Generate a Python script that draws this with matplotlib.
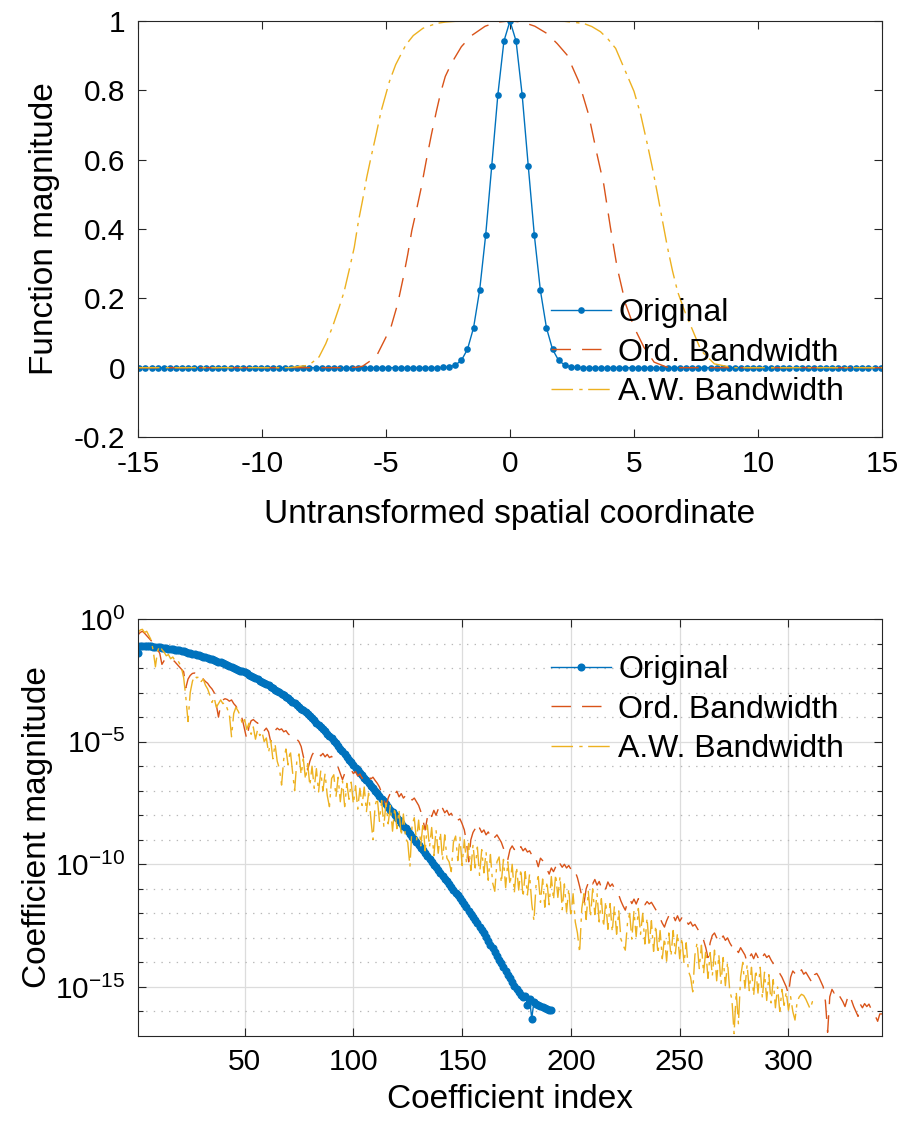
import numpy as np
import matplotlib
matplotlib.use("Agg")
import matplotlib.pyplot as plt
from matplotlib.ticker import FixedLocator, FixedFormatter, NullFormatter

# --- Style (MATLAB-like defaults) ---
plt.rcParams['font.family'] = ['Liberation Sans', 'DejaVu Sans']
plt.rcParams['mathtext.fontset'] = 'custom'
plt.rcParams['mathtext.rm'] = 'Liberation Sans'
plt.rcParams['mathtext.it'] = 'Liberation Sans'
plt.rcParams['axes.unicode_minus'] = False
plt.rcParams['lines.scale_dashes'] = False

C_BLUE = '#0072BD'
C_ORANGE = '#D95319'
C_YELLOW = '#EDB120'
C_AXIS = '#262626'

# --- Top panel data: functions on the untransformed grid ---
orig_step = 0.245
orig_x = np.arange(-61, 62) * orig_step
# right half of the original (i = 0 .. 61), mirrored for the left half
orig_right = [1.0, 0.942, 0.787, 0.583, 0.383, 0.223, 0.115, 0.053, 0.021,
              0.0075, 0.0024, 0.0007, 0.0002] + [0.0] * 49
orig_y = orig_right[:0:-1] + orig_right

ord_x = [-15, -6.6, -6.2, -5.95, -5.40, -5.07, -4.80, -4.53, -4.30, -4.12,
         -3.96, -3.78, -3.58, -3.38, -3.17, -2.97, -2.80, -2.61, -2.36, -1.96,
         -1.55, -1.0, -0.5, 0, 0.5, 1.0, 1.49, 1.9, 2.30, 2.77,
         3.17, 3.51, 3.78, 4.05, 4.32, 4.66, 5.0, 5.4, 5.81, 6.3,
         6.9, 15]
ord_y = [0, 0, 0.001, 0.004, 0.031, 0.078, 0.117, 0.184, 0.261, 0.328,
         0.395, 0.452, 0.519, 0.596, 0.672, 0.739, 0.792, 0.840, 0.878, 0.926,
         0.958, 0.985, 0.997, 1.0, 0.997, 0.985, 0.964, 0.935, 0.902, 0.826,
         0.730, 0.615, 0.529, 0.404, 0.289, 0.184, 0.117, 0.059, 0.016, 0.002,
         0, 0]

aw_x = [-15, -8.9, -8.11, -7.70, -7.43, -7.16, -6.89, -6.69, -6.49, -6.28,
        -6.11, -5.95, -5.78, -5.61, -5.40, -5.20, -4.86, -4.61, -4.20, -3.9,
        -3.51, -2.97, -2.6, -2.2, -1.0, 0, 1.0, 2.2, 2.97, 3.3,
        3.65, 3.95, 4.26, 4.66, 5.0, 5.27, 5.54, 5.74, 5.95, 6.15,
        6.35, 6.55, 6.76, 7.03, 7.37, 7.70, 8.24, 9.0, 15]
aw_y = [0, 0, 0.007, 0.031, 0.069, 0.117, 0.174, 0.219, 0.280, 0.347,
        0.423, 0.481, 0.548, 0.605, 0.672, 0.739, 0.826, 0.874, 0.931, 0.958,
        0.979, 0.993, 0.997, 0.999, 1.0, 1.0, 1.0, 0.999, 0.993, 0.984,
        0.969, 0.948, 0.921, 0.854, 0.797, 0.730, 0.644, 0.577, 0.500, 0.423,
        0.347, 0.280, 0.219, 0.165, 0.107, 0.050, 0.011, 0, 0]

top_xticks = [-15, -10, -5, 0, 5, 10, 15]
top_yticks = [-0.2, 0, 0.2, 0.4, 0.6, 0.8, 1]

# --- Bottom panel data: log10 of coefficient magnitudes, index 1..N ---
orig_coef_log = [
    -1.39, -1.10, -1.10, -1.10, -1.11, -1.11, -1.12, -1.13, -1.14, -1.15,
    -1.16, -1.17, -1.19, -1.20, -1.21, -1.23, -1.24, -1.25, -1.27, -1.28,
    -1.30, -1.32, -1.35, -1.37, -1.39, -1.41, -1.43, -1.46, -1.48, -1.50,
    -1.53, -1.56, -1.59, -1.62, -1.65, -1.68, -1.71, -1.74, -1.77, -1.80,
    -1.84, -1.87, -1.91, -1.95, -1.98, -2.02, -2.06, -2.10, -2.13, -2.17,
    -2.22, -2.27, -2.31, -2.36, -2.41, -2.46, -2.51, -2.55, -2.60, -2.65,
    -2.71, -2.76, -2.82, -2.88, -2.94, -2.99, -3.05, -3.11, -3.16, -3.22,
    -3.29, -3.37, -3.44, -3.51, -3.59, -3.66, -3.73, -3.80, -3.88, -3.95,
    -4.04, -4.13, -4.22, -4.31, -4.40, -4.49, -4.58, -4.67, -4.76, -4.85,
    -4.96, -5.07, -5.18, -5.29, -5.40, -5.51, -5.62, -5.73, -5.84, -5.95,
    -6.06, -6.16, -6.27, -6.37, -6.48, -6.58, -6.69, -6.79, -6.90, -7.00,
    -7.11, -7.22, -7.33, -7.44, -7.55, -7.66, -7.77, -7.88, -7.99, -8.10,
    -8.21, -8.32, -8.43, -8.54, -8.65, -8.76, -8.87, -8.98, -9.09, -9.20,
    -9.32, -9.43, -9.55, -9.66, -9.78, -9.89, -10.01, -10.12, -10.24, -10.35,
    -10.47, -10.58, -10.70, -10.81, -10.93, -11.04, -11.16, -11.27, -11.39, -11.50,
    -11.63, -11.76, -11.89, -12.02, -12.15, -12.28, -12.41, -12.54, -12.67, -12.80,
    -12.96, -13.11, -13.27, -13.42, -13.58, -13.73, -13.89, -14.04, -14.20, -14.35,
    -14.50, -14.65, -14.80, -14.95, -15.08, -15.20, -15.32, -15.42, -15.38, -15.72,
    -15.50, -16.29, -15.60, -15.68, -15.72, -15.78, -15.82, -15.85, -15.88, -15.92,
    -15.95,
]

ord_coef_log = [
    -0.65, -0.55, -0.50, -0.58, -0.68, -0.78, -0.88, -0.95, -1.10, -1.25,
    -1.40, -1.85, -1.70, -1.62, -1.58, -1.60, -1.66, -1.75, -1.85, -1.95,
    -2.05, -2.15, -2.80, -2.45, -2.30, -2.22, -2.20, -2.25, -2.35, -2.30,
    -2.45, -2.55, -2.62, -2.75, -2.85, -3.00, -3.50, -4.00, -3.50, -3.30,
    -3.25, -3.28, -3.35, -3.30, -3.45, -3.55, -3.70, -3.85, -4.10, -4.50,
    -4.90, -4.40, -4.15, -4.10, -4.18, -4.25, -4.20, -4.35, -4.55, -4.45,
    -4.60, -5.00, -4.70, -4.55, -4.45, -4.52, -4.48, -4.60, -4.55, -4.68,
    -4.75, -4.70, -4.85, -4.90, -5.00, -5.20, -5.60, -5.90, -6.15, -5.80,
    -5.55, -5.40, -5.50, -5.42, -5.58, -5.48, -5.62, -5.52, -5.65, -5.60,
    -5.75, -5.90, -6.05, -6.30, -6.55, -6.30, -6.20, -6.25, -6.15, -6.30,
    -6.22, -6.40, -6.32, -6.50, -6.40, -6.48, -6.38, -6.52, -6.45, -6.58,
    -6.70, -6.85, -7.10, -7.35, -7.65, -7.30, -7.10, -6.98, -7.15, -7.02,
    -7.25, -7.12, -7.30, -7.20, -7.35, -7.25, -7.38, -7.30, -7.45, -7.60,
    -7.85, -8.20, -8.60, -8.10, -7.85, -8.05, -7.80, -8.00, -7.75, -7.95,
    -7.72, -7.90, -7.80, -8.00, -7.92, -8.10, -8.00, -8.20, -8.15, -8.35,
    -8.60, -9.10, -9.90, -9.00, -8.70, -8.55, -8.75, -8.52, -8.70, -8.60,
    -8.80, -8.68, -8.85, -8.72, -8.90, -8.80, -8.95, -9.10, -9.35, -9.60,
    -9.80, -9.40, -9.25, -9.40, -9.22, -9.38, -9.28, -9.45, -9.35, -9.50,
    -9.45, -9.62, -9.55, -9.80, -10.10, -9.75, -9.85, -10.05, -10.20, -10.40,
    -10.15, -10.30, -10.10, -10.25, -9.98, -10.12, -10.00, -10.15, -10.05, -10.20,
    -10.12, -10.30, -10.55, -10.90, -11.30, -11.60, -11.00, -10.75, -10.60, -10.80,
    -10.62, -10.85, -10.70, -10.95, -10.80, -11.00, -10.72, -10.90, -10.80, -10.98,
    -11.05, -11.25, -11.50, -11.70, -11.87, -11.55, -11.40, -11.60, -11.42, -11.62,
    -11.40, -11.58, -11.50, -11.65, -11.52, -11.62, -11.55, -11.70, -11.85, -12.00,
    -12.20, -12.40, -12.56, -12.30, -12.10, -12.25, -12.08, -12.30, -12.10, -12.32,
    -12.18, -12.38, -12.28, -12.45, -12.35, -12.52, -12.45, -12.60, -12.75, -12.90,
    -13.10, -13.40, -13.80, -13.20, -12.90, -12.80, -13.00, -12.85, -13.05, -12.92,
    -13.10, -13.00, -13.20, -13.35, -13.25, -13.45, -13.60, -13.40, -13.55, -13.70,
    -14.00, -13.80, -13.65, -13.85, -13.62, -13.80, -13.60, -13.78, -13.65, -13.80,
    -13.72, -13.90, -14.05, -14.20, -14.35, -14.45, -14.60, -14.80, -15.00, -15.30,
    -14.60, -14.35, -14.45, -14.28, -14.42, -14.30, -14.48, -14.40, -14.55, -14.70,
    -14.85, -14.50, -14.45, -14.60, -14.80, -15.00, -15.60, -16.85, -15.40, -15.10,
    -15.25, -15.12, -15.30, -15.45, -15.60, -15.80, -15.50, -15.30, -15.55, -15.80,
    -16.00, -16.20, -15.70, -15.85, -15.68, -15.80, -15.70, -15.90, -16.05, -16.20,
    -16.40, -16.10, -16.10,
]

aw_coef_log = [
    -0.55, -0.45, -0.42, -0.55, -0.50, -0.68, -0.85, -1.30, -1.95, -1.30,
    -1.10, -1.25, -1.35, -1.50, -1.45, -1.62, -1.55, -1.70, -1.65, -1.80,
    -2.00, -2.40, -3.20, -4.18, -3.00, -2.55, -2.30, -2.40, -2.35, -2.55,
    -2.45, -2.70, -2.85, -3.10, -3.40, -3.20, -3.60, -3.45, -3.30, -3.45,
    -3.40, -3.65, -3.90, -4.80, -3.85, -3.60, -3.75, -3.95, -4.30, -4.10,
    -4.50, -4.25, -4.70, -4.40, -4.90, -4.50, -4.75, -4.60, -5.00, -4.85,
    -5.45, -4.95, -5.70, -5.10, -5.80, -6.10, -6.77, -5.70, -5.30, -5.95,
    -5.35, -6.20, -7.00, -5.80, -5.50, -6.35, -5.70, -6.55, -5.90, -6.80,
    -6.00, -6.90, -6.10, -7.05, -6.20, -7.00, -6.30, -7.20, -7.65, -6.50,
    -6.35, -7.25, -6.45, -7.45, -6.60, -7.65, -6.70, -7.35, -6.65, -7.55,
    -6.80, -7.75, -6.90, -7.60, -6.85, -7.85, -7.10, -8.10, -9.00, -7.60,
    -7.30, -8.25, -7.40, -8.45, -7.50, -8.35, -7.60, -8.65, -7.70, -8.55,
    -7.80, -8.85, -7.95, -8.95, -9.10, -10.10, -8.40, -8.10, -9.05, -8.20,
    -9.25, -8.30, -9.45, -8.40, -9.30, -8.50, -9.65, -8.60, -9.55, -8.70,
    -9.85, -8.80, -9.75, -9.90, -10.30, -9.10, -8.85, -9.85, -8.90, -10.05,
    -9.00, -9.95, -9.15, -10.25, -9.20, -10.15, -9.30, -10.45, -9.40, -10.35,
    -9.50, -10.65, -9.60, -10.75, -11.10, -9.90, -9.70, -10.75, -9.80, -10.95,
    -9.90, -10.85, -10.00, -11.15, -10.10, -11.05, -10.20, -11.35, -10.30, -11.25,
    -10.40, -11.60, -12.30, -10.80, -10.50, -11.55, -10.60, -11.75, -10.70, -11.65,
    -10.50, -11.45, -10.40, -11.35, -10.50, -11.85, -10.80, -11.95, -11.00, -12.15,
    -11.20, -12.35, -12.80, -13.60, -11.80, -11.20, -12.25, -11.10, -12.15, -11.00,
    -12.05, -11.20, -12.35, -11.40, -12.55, -11.50, -12.65, -11.60, -12.75, -11.70,
    -12.85, -11.90, -13.05, -13.30, -13.50, -12.40, -12.00, -13.05, -11.90, -12.95,
    -11.80, -12.85, -12.00, -13.25, -12.20, -13.35, -12.30, -13.55, -12.50, -13.65,
    -12.70, -13.85, -13.00, -13.95, -12.80, -13.75, -12.70, -13.65, -12.80, -13.85,
    -13.00, -14.05, -13.20, -14.35, -14.60, -15.20, -13.70, -13.20, -14.25, -13.30,
    -14.45, -13.50, -14.65, -13.60, -14.55, -13.50, -14.75, -13.70, -14.85, -13.80,
    -14.95, -14.00, -15.15, -15.50, -16.90, -15.20, -16.50, -14.60, -14.00, -15.05,
    -14.10, -15.15, -14.20, -15.35, -14.30, -15.25, -14.20, -15.45, -14.40, -15.55,
    -14.50, -15.65, -14.70, -15.85, -15.00, -16.00, -15.10, -15.75, -15.20, -15.95,
    -15.40, -16.00, -16.35, -15.60, -15.40, -15.30, -15.35, -15.50, -15.70, -15.90,
    -15.60, -15.80,
]

bot_xticks = [50, 100, 150, 200, 250, 300]
bot_major_decades = [0, -5, -10, -15]

LABELS = ['Original', 'Ord. Bandwidth', 'A.W. Bandwidth']

# --- Figure ---
W, H = 901, 1126
fig = plt.figure(figsize=(W / 100, H / 100), dpi=100)


def px_axes(left, top, right, bottom):
    """Axes rectangle given in pixel coordinates of the output image."""
    return fig.add_axes([left / W, 1 - bottom / H, (right - left) / W, (bottom - top) / H])


def style_axes(ax):
    for sp in ax.spines.values():
        sp.set_color(C_AXIS)
        sp.set_linewidth(0.8)
    ax.tick_params(which='both', direction='in', top=True, right=True,
                   color=C_AXIS, labelsize=21.5, labelcolor='black', width=0.8,
                   pad=9)
    ax.tick_params(which='major', length=6)
    ax.tick_params(which='minor', length=3.5)


def add_legend(ax, top_px):
    ax.legend(loc='upper left', bbox_to_anchor=(551 / W, 1 - top_px / H),
              bbox_transform=fig.transFigure, frameon=False, fontsize=23,
              handlelength=1.88, handletextpad=0.22, labelspacing=0.3,
              borderpad=0, borderaxespad=0, numpoints=1)


ORD_DASH = (14, 8)
AW_DASH = (15.5, 4.5, 2.4, 4.0)
LINE_W = 1.0

# Top panel
ax1 = px_axes(138, 21, 882, 437)
ax1.plot(orig_x, orig_y, color=C_BLUE, lw=LINE_W, marker='o', ms=4.8, mew=0,
         label=LABELS[0])
ax1.plot(ord_x, ord_y, color=C_ORANGE, lw=LINE_W, dashes=ORD_DASH, label=LABELS[1])
ax1.plot(aw_x, aw_y, color=C_YELLOW, lw=LINE_W, dashes=AW_DASH, label=LABELS[2])
ax1.set_xlim(-15, 15)
ax1.set_ylim(-0.2, 1)
ax1.xaxis.set_major_locator(FixedLocator(top_xticks))
ax1.xaxis.set_major_formatter(FixedFormatter([f'{t:g}' for t in top_xticks]))
ax1.yaxis.set_major_locator(FixedLocator(top_yticks))
ax1.yaxis.set_major_formatter(FixedFormatter([f'{t:g}' for t in top_yticks]))
style_axes(ax1)
ax1.set_xlabel('Untransformed spatial coordinate', fontsize=24, va='center')
ax1.xaxis.set_label_coords(0.5, (437 - 515) / 416)
ax1.set_ylabel('Function magnitude', fontsize=24, va='center')
ax1.yaxis.set_label_coords((45 - 138) / 744, 0.5)
add_legend(ax1, 298)

# Bottom panel
n_orig = np.arange(1, len(orig_coef_log) + 1)
n_ord = np.arange(1, len(ord_coef_log) + 1)
n_aw = np.arange(1, len(aw_coef_log) + 1)

ax2 = px_axes(138, 619, 882, 1036)
ax2.plot(n_orig, 10.0 ** np.array(orig_coef_log), color=C_BLUE, lw=LINE_W,
         marker='o', ms=5.8, mew=0, label=LABELS[0])
ax2.plot(n_ord, 10.0 ** np.array(ord_coef_log), color=C_ORANGE, lw=LINE_W,
         dashes=ORD_DASH, label=LABELS[1])
ax2.plot(n_aw, 10.0 ** np.array(aw_coef_log), color=C_YELLOW, lw=LINE_W,
         dashes=AW_DASH, label=LABELS[2])
ax2.set_yscale('log')
ax2.set_xlim(1, 343)
ax2.set_ylim(1e-17, 1e0)
ax2.xaxis.set_major_locator(FixedLocator(bot_xticks))
ax2.xaxis.set_major_formatter(FixedFormatter([str(t) for t in bot_xticks]))
ax2.yaxis.set_major_locator(FixedLocator([10.0 ** d for d in bot_major_decades]))
ax2.yaxis.set_major_formatter(FixedFormatter(
    [r'$\mathdefault{10^{%d}}$' % d for d in bot_major_decades]))
minor_decades = [d for d in range(-16, 0) if d not in bot_major_decades]
ax2.yaxis.set_minor_locator(FixedLocator([10.0 ** d for d in minor_decades]))
ax2.yaxis.set_minor_formatter(NullFormatter())
ax2.xaxis.set_minor_locator(FixedLocator([]))
style_axes(ax2)
ax2.grid(True, which='major', color='#dcdcdc', lw=0.9, ls='-')
ax2.grid(True, which='minor', axis='y', color='#b8b8b8', lw=0.9, dashes=(1.0, 4.5))
ax2.set_axisbelow(True)
ax2.set_xlabel('Coefficient index', fontsize=24, va='center')
ax2.xaxis.set_label_coords(0.5, (1036 - 1100) / 417)
ax2.set_ylabel('Coefficient magnitude', fontsize=24, va='center')
ax2.yaxis.set_label_coords((38 - 138) / 744, 0.5)
add_legend(ax2, 655)

fig.savefig('out.png', dpi=100)
